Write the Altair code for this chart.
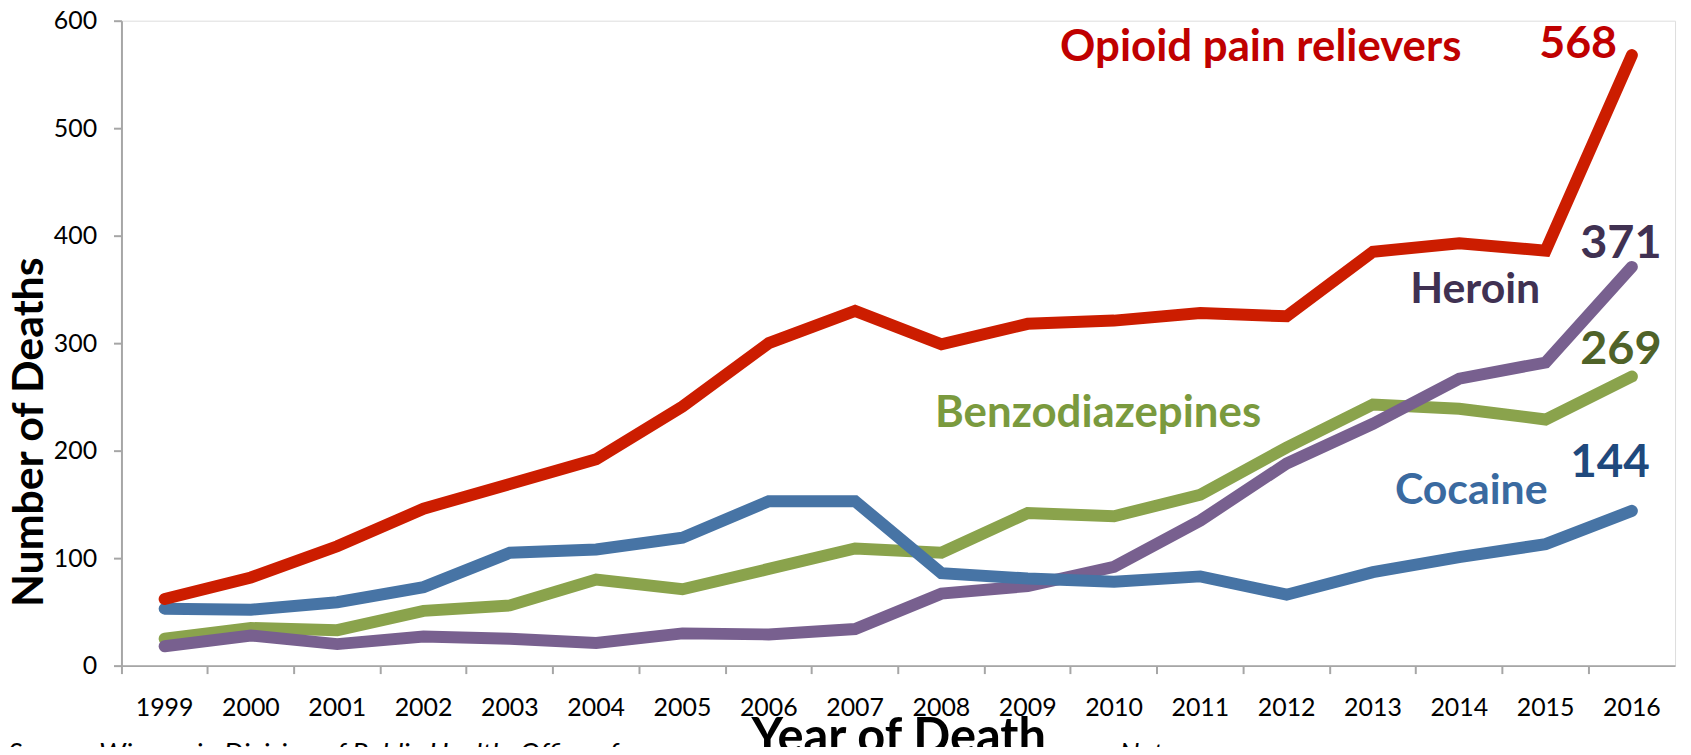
import altair as alt
import pandas as pd

years = [str(y) for y in range(1999, 2017)]
opioid = [62, 82, 111, 146, 169, 192, 241, 300, 330, 299, 318, 321, 328, 325, 385, 393, 386, 568]
heroin = [18, 28, 20, 27, 25, 21, 30, 29, 34, 67, 74, 92, 135, 188, 225, 267, 282, 371]
benzo = [25, 35, 33, 51, 56, 80, 71, 90, 109, 105, 142, 139, 159, 203, 243, 239, 229, 269]
cocaine = [53, 52, 59, 73, 105, 108, 119, 153, 153, 86, 81, 78, 83, 66, 87, 101, 113, 144]

series_names = ["Benzodiazepines", "Heroin", "Cocaine", "Opioid pain relievers"]
series_values = [benzo, heroin, cocaine, opioid]
series_colors = ["#8AA34C", "#78608F", "#4774A5", "#CC1D00"]

# annotation texts with anchor (year, value)
ann_text = ["Opioid pain relievers", "568", "Heroin", "371", "269", "Benzodiazepines", "Cocaine", "144"]
ann_year = ["2012", "2016", "2014", "2016", "2016", "2010", "2014", "2016"]
ann_value = [575, 578, 349, 392, 294, 234, 162, 188]
ann_color = ["#C00000", "#C00000", "#403152", "#403152", "#4F6228", "#7A9A3E", "#3A6AA0", "#1F497D"]
ann_size = [44, 45, 43, 47, 47, 44, 43, 46]
ann_dx = [-26, -54, 16, -11, -11, -16, 12, -22]

rows = []
for name, vals in zip(series_names, series_values):
    for y, v in zip(years, vals):
        rows.append({"series": name, "year": y, "deaths": v})
df = pd.DataFrame(rows)

FONT = "Lato"
AXIS_GRAY = "#A6A6A6"

x_enc = alt.X(
    "year:N",
    sort=years,
    bandPosition=0.5,
    scale=alt.Scale(type="band", domain=years, paddingInner=0, paddingOuter=0),
    axis=alt.Axis(
        title="Year of Death",
        bandPosition=0,
        labelAngle=0,
        labelFontSize=25,
        labelFont=FONT,
        labelColor="black",
        labelBaseline="middle",
        labelPadding=34,
        tickSize=8,
        tickColor=AXIS_GRAY,
        domainColor=AXIS_GRAY,
        domainWidth=2,
        tickWidth=2,
        titleFont=FONT,
        titleFontSize=49,
        titleFontWeight="bold",
        titleColor="black",
        titleBaseline="middle",
        titleY=72,
    ),
)
y_enc = alt.Y(
    "deaths:Q",
    scale=alt.Scale(domain=[0, 600], nice=False),
    axis=alt.Axis(
        title="Number of Deaths",
        values=[0, 100, 200, 300, 400, 500, 600],
        grid=False,
        labelFontSize=25,
        labelFont=FONT,
        labelColor="black",
        labelPadding=17,
        tickSize=8,
        tickColor=AXIS_GRAY,
        domainColor=AXIS_GRAY,
        domainWidth=2,
        tickWidth=2,
        titleFont=FONT,
        titleFontSize=43,
        titleFontWeight="bold",
        titleColor="black",
        titleAngle=270,
        titleBaseline="middle",
        titleAlign="center",
        titleX=-92,
        titleY=413,
    ),
)

layers = []
for name, color in zip(series_names, series_colors):
    layers.append(
        alt.Chart(df)
        .transform_filter(alt.datum.series == name)
        .mark_line(color=color, strokeWidth=12, strokeCap="round", strokeJoin="miter")
        .encode(x=x_enc, y=y_enc)
    )

for t, yr, v, c, s, dx in zip(ann_text, ann_year, ann_value, ann_color, ann_size, ann_dx):
    adf = pd.DataFrame({"year": [yr], "deaths": [v], "label": [t]})
    layers.append(
        alt.Chart(adf)
        .mark_text(font=FONT, fontWeight="bold", fontSize=s, color=c, dx=dx, baseline="middle", align="center")
        .encode(x=alt.X("year:N", sort=years, bandPosition=0.5), y="deaths:Q", text="label:N")
    )

src = pd.DataFrame({"label": ["Source: Wisconsin Division of Public Health, Office of"]})
layers.append(
    alt.Chart(src)
    .mark_text(font=FONT, fontStyle="italic", fontSize=28, color="black", align="left", baseline="top")
    .encode(x=alt.value(-114), y=alt.value(724), text="label:N")
)
note = pd.DataFrame({"label": ["Note:"]})
layers.append(
    alt.Chart(note)
    .mark_text(font=FONT, fontStyle="italic", fontSize=28, color="black", align="left", baseline="top")
    .encode(x=alt.value(1003), y=alt.value(724), text="label:N")
)

chart = (
    alt.layer(*layers)
    .properties(
        width=1561,
        height=648,
        autosize=alt.AutoSizeParams(type="none"),
        padding={"left": 114, "top": 11, "right": 8, "bottom": 80},
    )
    .configure_view(stroke=None)
    .configure(background="white")
)

chart.save("out.html", embed_options={"renderer": "svg", "actions": False})
